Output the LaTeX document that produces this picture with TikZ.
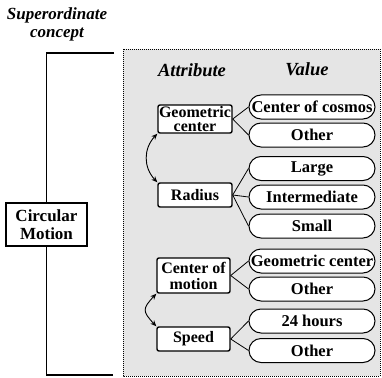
\documentclass[tikz,border=0pt]{standalone}
\usepackage{fontspec}
\setmainfont{Liberation Serif}
\usetikzlibrary{arrows.meta,shapes.misc}
\begin{document}
\begin{tikzpicture}[x=1pt,y=-1pt,
  attr/.style={draw,line width=1.4pt,rounded corners=2pt,fill=white,inner sep=0pt,align=center,
    font=\bfseries\fontsize{16}{14.5}\selectfont},
  val/.style={draw,line width=1pt,rounded rectangle,fill=white,inner sep=0pt,minimum width=126pt,minimum height=24pt,
    font=\bfseries\fontsize{16.5}{15}\selectfont},
  lab/.style={font=\bfseries\itshape\fontsize{17}{18}\selectfont,align=center,inner sep=0pt},
  conn/.style={line width=0.8pt},
  dbl/.style={line width=0.9pt,{Stealth[length=6pt,width=5pt]}-{Stealth[length=6pt,width=5pt]}}
]
\useasboundingbox (0,0) rectangle (382,377);
\fill[black!10] (123,49) rectangle (380,376);
\draw[line width=0.8pt,dash pattern=on 1pt off 1pt] (123,49) rectangle (380,376);

\node[lab] (sup) at (57,24) {Superordinate\\concept};
\node[lab,font=\bfseries\itshape\fontsize{18.5}{18}\selectfont] (attrh) at (192,70) {Attribute};
\node[lab,font=\bfseries\itshape\fontsize{18.5}{18}\selectfont] (valh) at (307,69) {Value};

\coordinate (bt) at (114,53);
\coordinate (bb) at (113,375);
\node[attr,line width=1.3pt,rounded corners=0pt,minimum width=81pt,minimum height=43pt,font=\bfseries\fontsize{17}{18}\selectfont] (cm) at (46.5,224.5) {Circular\\Motion};
\draw[line width=1.1pt] (bt) -| (cm.north);
\draw[line width=1.1pt] (bb) -| (cm.south);

\node[attr,minimum width=74pt,minimum height=28pt] (geo) at (195,119) {Geometric\\center};
\node[attr,minimum width=74pt,minimum height=24pt] (rad) at (195,195) {Radius};
\node[attr,minimum width=73pt,minimum height=35pt,font=\bfseries\fontsize{16}{16}\selectfont] (com) at (193.5,275.5) {Center of\\motion};
\node[attr,minimum width=73pt,minimum height=24pt] (spd) at (193.5,339) {Speed};

\node[val] (v1) at (312,107) {Center of cosmos};
\node[val] (v2) at (312,135) {Other};
\node[val] (v3) at (312,168.5) {Large};
\node[val] (v4) at (312,197) {Intermediate};
\node[val] (v5) at (312,226) {Small};
\node[val] (v6) at (312,261) {Geometric center};
\node[val] (v7) at (312,289) {Other};
\node[val] (v8) at (312,321) {24 hours};
\node[val] (v9) at (312,350.5) {Other};

\draw[conn] (geo.east) -- (v1.west);
\draw[conn] (geo.east) -- (v2.west);
\draw[conn] (rad.east) -- (v3.west);
\draw[conn] (rad.east) -- (v4.west);
\draw[conn] (rad.east) -- (v5.west);
\draw[conn] (com.east) -- (v6.west);
\draw[conn] (com.east) -- (v7.west);
\draw[conn] (spd.east) -- (v8.west);
\draw[conn] (spd.east) -- (v9.west);

\draw[dbl] (geo.south west) .. controls +(-14,15) and +(-14,-15) .. (rad.north west);
\draw[dbl] (com.south west) .. controls +(-14,15) and +(-14,-15) .. (spd.north west);
\end{tikzpicture}
\end{document}
